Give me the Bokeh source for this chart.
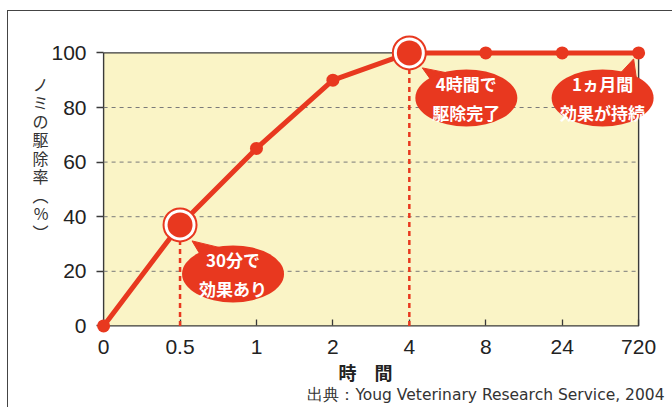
from bokeh.plotting import figure
from bokeh.models import Range1d, FixedTicker, Label, Title, InlineStyleSheet
from bokeh.core.properties import value
from bokeh.embed import file_html
from bokeh.resources import INLINE

# ---- data ----
x_labels = ["0", "0.5", "1", "2", "4", "8", "24", "720"]
removal = [0, 37, 65, 90, 100, 100, 100, 100]
y_ticks = [0, 20, 40, 60, 80, 100]
grid_vals = [20, 40, 60, 80]
highlight_idx = [1, 4]
callout_idx = [1, 4, 7]
callout_text = ["30分で\n効果あり", "4時間で\n駆除完了", "1ヵ月間\n効果が持続"]
y_title = "ノ\nミ\nの\n駆\n除\n率\n︵\n%\n︶\n \n \n "
x_title = "時　間　"
source_text = "出典：Youg Veterinary Research Service, 2004"

xs = list(range(len(x_labels)))

RED = "#E8381F"
YEL = "#FAF4C6"
DARK = "#3a3a3a"
JP = "Noto Sans CJK JP"
NUM = "Liberation Sans"

W, H = 672, 407
ML, MR, MT, MB = 84, 8, 31, 68
PX_X = 76.43
PX_Y = 2.73
x0 = -0.25
x_end = x0 + (W - ML - MR) / PX_X
y_end = 107.84
y0 = y_end - (H - MT - MB) / PX_Y

p = figure(width=W, height=H, output_backend="svg", toolbar_location=None,
           x_range=Range1d(x0, x_end), y_range=Range1d(y0, y_end),
           min_border_left=ML, min_border_right=MR, min_border_top=MT,
           min_border_bottom=MB, outline_line_color=None,
           background_fill_color="white", border_fill_color="white")
p.xgrid.visible = False
p.ygrid.visible = False

xmax = xs[-1]
ymax = y_ticks[-1]

# plot area background with outline
bg = p.quad(left=[0], right=[xmax], bottom=[0], top=[ymax], fill_color=YEL,
            line_color=DARK, line_width=1.4)
bg.level = "image"

# dashed grid lines
gl = p.segment(x0=[0] * len(grid_vals), x1=[xmax] * len(grid_vals), y0=grid_vals,
               y1=grid_vals, line_color="#7a7a7a", line_width=1, line_dash="4 4")
gl.level = "underlay"

# axes (ticks shifted so they sit on the x=0 / y=0 lines)
xa = p.xaxis[0]
xa.ticker = FixedTicker(ticks=xs)
xa.major_label_overrides = {i: s for i, s in zip(xs, x_labels)}
xa.major_tick_out = -14
xa.major_tick_in = 20
xa.minor_tick_line_color = None
xa.axis_line_color = None
xa.major_tick_line_color = DARK
xa.major_tick_line_width = 1.3
xa.major_label_text_font = NUM
xa.major_label_text_font_size = "21px"
xa.major_label_text_color = "#222222"
xa.major_label_standoff = 0
xa.axis_label = x_title
xa.axis_label_text_font = JP
xa.axis_label_text_font_size = "18px"
xa.axis_label_text_font_style = "bold"
xa.axis_label_text_color = "#222222"
xa.axis_label_standoff = 2

ya = p.yaxis[0]
ya.ticker = FixedTicker(ticks=y_ticks)
ya.major_tick_out = -12
ya.major_tick_in = 19
ya.minor_tick_line_color = None
ya.axis_line_color = None
ya.major_tick_line_color = DARK
ya.major_tick_line_width = 1.3
ya.major_label_text_font = NUM
ya.major_label_text_font_size = "21px"
ya.major_label_text_color = "#222222"
ya.major_label_standoff = -2
ya.axis_label = y_title
ya.axis_label_text_font = JP
ya.axis_label_text_font_size = "16px"
ya.axis_label_text_font_style = "normal"
ya.axis_label_text_color = "#333333"
ya.axis_label_text_line_height = 0.77
ya.axis_label_standoff = 0
if "axis_label_orientation" in ya.properties():
    ya.axis_label_orientation = "horizontal"

# dashed drop lines from highlighted points
for i in highlight_idx:
    r = p.segment(x0=[xs[i]], x1=[xs[i]], y0=[0], y1=[removal[i]], line_color=RED,
                  line_width=2.5, line_dash="5 4")
    r.level = "annotation"

# main line + markers
ln = p.line(xs, removal, line_color=RED, line_width=5)
ln.level = "annotation"
mk = p.scatter(xs, removal, size=13, fill_color=RED, line_color=None)
mk.level = "annotation"

hx = [xs[i] for i in highlight_idx]
hy = [removal[i] for i in highlight_idx]
ring = p.scatter(hx, hy, size=33, fill_color="white", line_color=RED, line_width=2)
ring.level = "annotation"
inner = p.scatter(hx, hy, size=25, fill_color=RED, line_color=None)
inner.level = "annotation"

# callouts (offsets in screen pixels relative to the point)
center_off = {1: (53, 49), 4: (57, 45), 7: (-36, 45)}
tip_off = {1: [(-41, -33), (-32, -18), (-12, -26)],
           4: [(-44, -30), (-34, -16), (-14, -24)],
           7: [(31, -39), (18, -25), (34, -18)]}
for i, txt in zip(callout_idx, callout_text):
    dx, dy = center_off[i]
    cx = xs[i] + dx / PX_X
    cy = removal[i] - dy / PX_Y
    tri_x = [cx + a / PX_X for a, b in tip_off[i]]
    tri_y = [cy - b / PX_Y for a, b in tip_off[i]]
    pt = p.patch(tri_x, tri_y, fill_color=RED, line_color=RED, line_width=1)
    pt.level = "annotation"
    el = p.ellipse(x=[cx], y=[cy], width=102 / PX_X, height=57 / PX_Y,
                   fill_color=RED, line_color=None)
    el.level = "annotation"
    lb = Label(x=cx, y=cy, text=txt, text_align="center", text_baseline="middle",
               text_font=JP, text_font_size="17px", text_font_style="bold",
               text_color="white", text_line_height=1.18)
    p.add_layout(lb)

# source line below the chart
src = Title(text=source_text, align="right", text_font="DejaVu Sans",
            text_font_size="15.5px", text_font_style="normal", text_color="#333333",
            standoff=-7, offset=0)
p.add_layout(src, "below")

# outer frame (top and left edges visible in the window)
p.stylesheets = [InlineStyleSheet(css=(
    ":host::after { content: ''; position: absolute; left: 7px; top: 10px; "
    "right: 0; bottom: 0; border-top: 1.5px solid #444; border-left: 1.5px solid #444; "
    "pointer-events: none; }"))]

open("out.html", "w").write(file_html(p, INLINE))
